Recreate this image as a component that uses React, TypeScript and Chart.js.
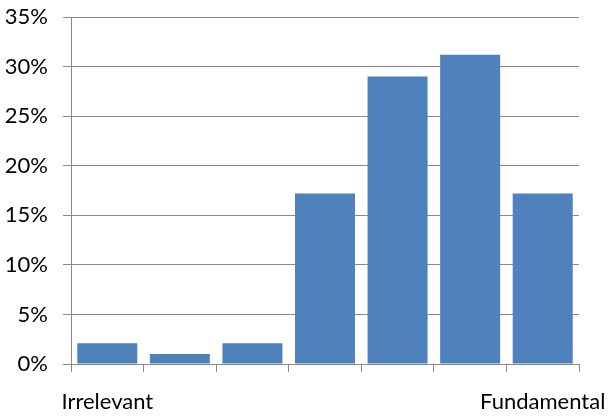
import React, { useEffect, useRef } from "react";
import { Chart, registerables } from "chart.js";

Chart.register(...registerables);

const categories = ["Irrelevant", "", "", "", "", "", "Fundamental"];
const values = [2.1, 1.0, 2.1, 17.2, 29.0, 31.2, 17.2];
const yTicks = [0, 5, 10, 15, 20, 25, 30, 35];

const FONT = "Lato";
const GRID = "#8a8a8a";

export default function App() {
  const ref = useRef<HTMLCanvasElement | null>(null);
  useEffect(() => {
    document.body.style.margin = "0";
    const ctx = ref.current!;
    const chart = new Chart(ctx, {
      type: "bar",
      data: {
        labels: categories,
        datasets: [
          {
            data: values,
            backgroundColor: "#4f81bd",
            borderWidth: 0,
            categoryPercentage: 1,
            barPercentage: 0.827,
          },
        ],
      },
      options: {
        responsive: false,
        animation: false,
        layout: { padding: { top: 17, right: 29, left: 0, bottom: 0 } },
        plugins: { legend: { display: false }, tooltip: { enabled: false } },
        scales: {
          x: {
            grid: {
              drawOnChartArea: false,
              color: GRID,
              tickLength: 8,
              offset: true,
            },
            border: { color: GRID },
            ticks: {
              color: "#000",
              font: { family: FONT, size: 22 },
              padding: 17,
              maxRotation: 0,
              autoSkip: false,
            },
            afterFit: (s: any) => {
              s.height = 52;
              s.paddingLeft = 0;
              s.paddingRight = 0;
            },
          },
          y: {
            min: 0,
            max: 35,
            afterBuildTicks: (s: any) => {
              s.ticks = yTicks.map((v) => ({ value: v }));
            },
            grid: { color: GRID, tickLength: 8 },
            border: { color: GRID },
            ticks: {
              color: "#000",
              font: { family: FONT, size: 22 },
              padding: 15,
              callback: (v: any) => v + "%",
            },
            afterFit: (s: any) => {
              s.width = 71;
              s.paddingTop = 0;
              s.paddingBottom = 0;
            },
          },
        },
      },
    });
    return () => chart.destroy();
  }, []);
  return (
    <canvas
      ref={ref}
      width={608}
      height={416}
      style={{ display: "block", width: 608, height: 416 }}
    />
  );
}
